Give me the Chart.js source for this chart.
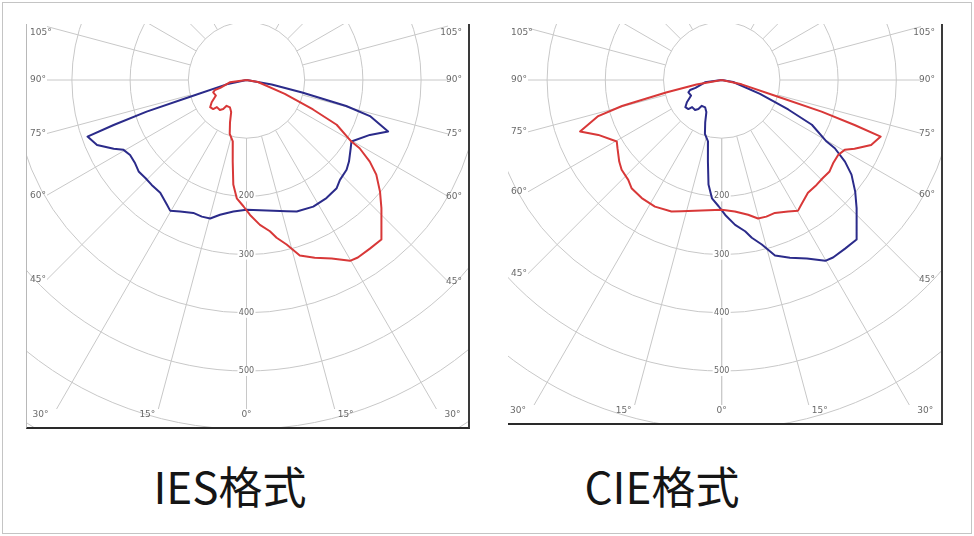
<!DOCTYPE html>
<html>
<head>
<meta charset="utf-8">
<script src="https://cdn.jsdelivr.net/npm/chart.js@4/dist/chart.umd.min.js"></script>
<style>
  html, body { margin: 0; padding: 0; background: #fff; }
  body { width: 974px; height: 536px; position: relative; overflow: hidden; }
  .page-border { position: absolute; left: 2px; top: 2px; width: 968px; height: 530px; border: 1px solid #c4c4c4; }
  .plot { position: absolute; background: #fff; }
  .plot canvas { display: block; }
  #iesWrap { left: 26px; top: 24px; width: 441px; height: 403px; border-left: 1px solid #b8b8b8; border-right: 2px solid #3a3a3a; border-bottom: 2px solid #2a2a2a; }
  #cieWrap { left: 508px; top: 24px; width: 433px; height: 399px; border-right: 2px solid #3a3a3a; border-bottom: 2px solid #2a2a2a; }
  .title { position: absolute; top: 463px; width: 300px; text-align: center; font-family: "Noto Sans CJK SC", sans-serif; font-size: 44px; line-height: 44px; color: #151515; }
</style>
</head>
<body>
<div class="page-border"></div>
<div class="plot" id="iesWrap"><canvas id="iesChart" width="441" height="403"></canvas></div>
<div class="plot" id="cieWrap"><canvas id="cieChart" width="433" height="399"></canvas></div>
<div class="title" style="left:80px">IES格式</div>
<div class="title" style="left:512px">CIE格式</div>

<script>
// Wide curve (C0-C180 plane): gamma in degrees from nadir, negative = left half
const wideGamma = [-90, -77.7, -73.5, -72.4, -71.3, -70.4, -66.5, -62.6, -60.4, -57.2, -53.2, -49.7, -45.9, -42.1,
  -37.4, -32.6, -30.3, -26.8, -21.8, -18.1, -14.7, -11.1, -5.7, 0, 8.8, 17.0, 20.9, 27.8, 34.1, 39.8, 43.1,
  48.1, 51.5, 56.8, 59.6, 66.0, 70.0, 73.7, 75.4, 77.4, 79.8, 90];
const wideCd = [0, 35, 101, 180, 241, 290, 280, 257, 243, 238, 239, 243, 242, 243,
  244, 254, 260, 253, 246, 247, 246, 236, 227, 223, 227, 236, 242, 246, 245, 242, 235,
  231, 225, 214, 209, 232, 259, 221, 177, 98, 44, 0];

// Asymmetric curve (C90-C270 plane)
const narrowGamma = [-90, -82, -73.2, -72.4, -69.7, -63, -57.4, -53.2, -48.9, -47.5, -41.5, -38.7, -37.6, -31.1,
  -25.6, -21.3, -17.3, -12.6, -9.6, -7.2, -4.7, -1.4, 1.5, 5.3, 8.8, 10.8, 13.7, 16.9, 21.0, 25.5, 29.8,
  32.1, 36.2, 40.2, 42.3, 46.5, 50.1, 53.9, 56.5, 58.9, 59.6, 63.6, 66.1, 70, 80, 90];
const narrowCd = [0, 29, 47, 57, 61, 59, 71, 78, 76, 69, 69, 64, 56, 55,
  61, 78, 97, 108, 142, 181, 204, 217, 232, 250, 263, 276, 291, 315, 327, 340, 358,
  360, 359, 359, 344, 320, 299, 276, 254, 227, 209, 173, 125, 70, 20, 0];

// grid
const ringValues = [100, 200, 300, 400, 500, 600, 700, 800];
const ringLabels = [200, 300, 400, 500];
const radialAngles = [0, 15, 30, 45, 60, 75, 90, 105, 120, 135, 150, 165, 180];
const sideLabelAngles = [45, 60, 75, 90, 105];
const bottomLabelAngles = [0, 15, 30];

const BLUE = '#2b2b8a';
const RED = '#d83838';
const PX_PER_CD = 0.582;

function polarPoints(gammas, cds, mirror) {
  return gammas.map(function(g, i) {
    const a = (mirror ? -g : g) * Math.PI / 180;
    return { x: cds[i] * Math.sin(a), y: -cds[i] * Math.cos(a) };
  });
}

const gridPlugin = {
  id: 'photometricGrid',
  beforeDatasetsDraw: function(chart) {
    const ctx = chart.ctx;
    const a = chart.chartArea;
    const xs = chart.scales.x, ys = chart.scales.y;
    const cx = xs.getPixelForValue(0), cy = ys.getPixelForValue(0);
    const unit = (xs.getPixelForValue(100) - cx) / 100;

    ctx.save();
    ctx.beginPath();
    ctx.rect(a.left, a.top, a.right - a.left, a.bottom - a.top);
    ctx.clip();
    ctx.strokeStyle = '#c8c8c8';
    ctx.lineWidth = 1;

    ringValues.forEach(function(v) {
      ctx.beginPath();
      ctx.arc(cx, cy, v * unit, 0, 2 * Math.PI);
      ctx.stroke();
    });

    // radial lines stop short of the angle labels
    ctx.save();
    ctx.beginPath();
    ctx.rect(a.left + 20, a.top, a.right - a.left - 40, a.bottom - a.top - 18);
    ctx.clip();
    radialAngles.forEach(function(g) {
      [-1, 1].forEach(function(s) {
        const r = g * Math.PI / 180;
        const dx = s * Math.sin(r), dy = Math.cos(r);
        ctx.beginPath();
        ctx.moveTo(cx + dx * 100 * unit, cy + dy * 100 * unit);
        ctx.lineTo(cx + dx * 1500 * unit, cy + dy * 1500 * unit);
        ctx.stroke();
      });
    });
    ctx.restore();

    // ring values
    ctx.font = '8px "DejaVu Sans"';
    ctx.textAlign = 'center';
    ctx.textBaseline = 'middle';
    ringLabels.forEach(function(v) {
      const ly = cy + v * unit;
      ctx.fillStyle = '#fff';
      ctx.fillRect(cx - 9, ly - 5, 18, 10);
      ctx.fillStyle = '#666';
      ctx.fillText(String(v), cx, ly);
    });

    // angle labels
    ctx.font = '9px "DejaVu Sans"';
    ctx.fillStyle = '#6a6a6a';
    sideLabelAngles.forEach(function(g) {
      [-1, 1].forEach(function(s) {
        const endX = s < 0 ? a.left + 20 : a.right - 20;
        let ly = cy + Math.abs(endX - cx) / Math.tan(g * Math.PI / 180);
        if (g === 90) ly = cy;
        ly = Math.max(ly, a.top + 9);
        if (s < 0) {
          ctx.textAlign = 'left';
          ctx.fillText(g + '°', a.left + 3, ly);
        } else {
          ctx.textAlign = 'right';
          ctx.fillText(g + '°', a.right - 6, ly);
        }
      });
    });
    const endY = a.bottom - 18;
    bottomLabelAngles.forEach(function(g) {
      if (g === 0) {
        ctx.textAlign = 'center';
        ctx.fillText('0°', cx, a.bottom - 12);
        return;
      }
      [-1, 1].forEach(function(s) {
        const lx = cx + s * (endY - cy) * Math.tan(g * Math.PI / 180);
        ctx.textAlign = s < 0 ? 'right' : 'left';
        ctx.fillText(g + '°', lx + s * (g / 3 - 2), a.bottom - 12);
      });
    });

    ctx.restore();
  }
};

function makePolarChart(canvasId, centerX, centerY, datasets) {
  const canvas = document.getElementById(canvasId);
  const w = canvas.width, h = canvas.height;
  return new Chart(canvas.getContext('2d'), {
    type: 'scatter',
    data: { datasets: datasets },
    options: {
      responsive: false,
      animation: false,
      devicePixelRatio: 1,
      events: [],
      layout: { padding: 0, autoPadding: false },
      plugins: { legend: { display: false }, tooltip: { enabled: false } },
      scales: {
        x: { type: 'linear', display: false, min: -centerX / PX_PER_CD, max: (w - centerX) / PX_PER_CD },
        y: { type: 'linear', display: false, min: -(h - centerY) / PX_PER_CD, max: centerY / PX_PER_CD }
      }
    },
    plugins: [gridPlugin]
  });
}

function curve(points, color) {
  return {
    data: points,
    showLine: true,
    borderColor: color,
    backgroundColor: color,
    borderWidth: 2,
    borderJoinStyle: 'round',
    pointRadius: 0,
    tension: 0,
    fill: false
  };
}

makePolarChart('iesChart', 219.5, 56, [
  curve(polarPoints(narrowGamma, narrowCd, false), RED),
  curve(polarPoints(wideGamma, wideCd, false), BLUE)
]);

makePolarChart('cieChart', 213.7, 56, [
  curve(polarPoints(wideGamma, wideCd, true), RED),
  curve(polarPoints(narrowGamma, narrowCd, false), BLUE)
]);
</script>
</body>
</html>
